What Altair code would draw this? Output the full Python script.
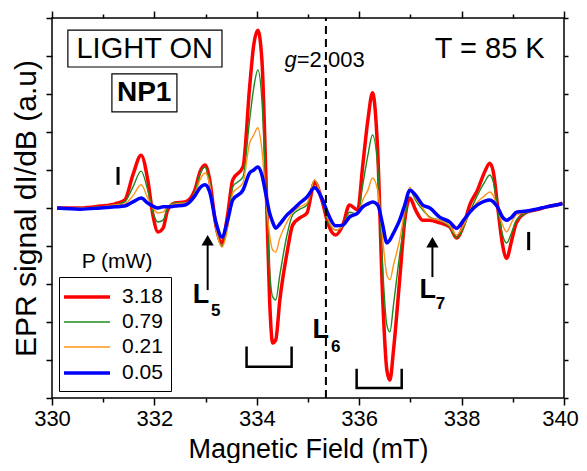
import altair as alt
import pandas as pd

FONT = "Liberation Sans"

# Magnetic field (mT) sample positions
field_mT = [330.10, 330.55, 330.94, 331.23, 331.42, 331.58, 331.74, 331.87, 331.97, 332.07,
            332.17, 332.26, 332.40, 332.60, 332.79, 332.89, 332.99, 333.08, 333.20, 333.32,
            333.43, 333.53, 333.73, 333.86, 333.94, 334.02, 334.10, 334.18, 334.25, 334.31,
            334.37, 334.45, 334.59, 334.70, 334.84, 334.98, 335.13, 335.27, 335.40, 335.54,
            335.68, 335.81, 335.97, 336.07, 336.17, 336.26, 336.36, 336.46, 336.54, 336.60,
            336.67, 336.79, 336.89, 336.99, 337.10, 337.24, 337.38, 337.57, 337.77, 337.90,
            338.04, 338.16, 338.31, 338.45, 338.55, 338.62, 338.70, 338.80, 338.88, 338.98,
            339.07, 339.27, 339.46, 339.66, 339.85, 339.97]

# EPR signal (a.u.) for each microwave power
sig_318 = [0, 0, 0.05, 0.11, 0.21, 0.87, 1.39, 0.74, -0.18, -0.63,
           -0.53, -0.05, 0.13, 0.16, 0.47, 0.95, 1.13, 0.74, -0.45, -0.92,
           -0.18, 0.74, 1.08, 3.18, 4.29, 4.68, 3.89, 0.74, -2.42, -3.55,
           -3.47, -2.42, -1.18, -0.45, -0.26, -0.13, 0.68, 0.21, -0.45, -0.71,
           -0.45, 0.08, -0.05, 1.13, 2.32, 3.03, 1.53, -2.42, -4.26, -4.53,
           -3.74, -1.89, -0.32, 0.26, -0.05, -0.32, -0.32, -0.39, -0.50, -0.79,
           -0.45, 0.08, 0.47, 0.95, 1.18, 0.95, 0.08, -0.97, -1.32, -0.84,
           -0.39, -0.11, -0.05, 0.03, 0.08, 0.13]
sig_079 = [0, 0, 0.03, 0.08, 0.16, 0.55, 0.97, 0.47, -0.11, -0.37,
           -0.32, 0, 0.13, 0.13, 0.42, 0.89, 1.08, 0.68, -0.53, -1.00,
           -0.45, 0.55, 0.82, 2.32, 3.16, 3.63, 2.84, 0.47, -1.63, -2.34,
           -2.42, -1.76, -0.71, -0.18, -0.03, 0.08, 0.74, 0.21, -0.37, -0.58,
           -0.47, -0.11, -0.16, 0.61, 1.39, 1.92, 1.13, -1.63, -3.08, -3.26,
           -2.55, -1.24, -0.32, 0.47, 0.21, -0.05, -0.24, -0.32, -0.50, -0.79,
           -0.50, -0.11, 0.34, 0.68, 0.87, 0.68, 0.03, -0.71, -0.92, -0.63,
           -0.32, -0.13, -0.05, 0.03, 0.08, 0.13]
sig_021 = [0, 0, 0.03, 0.08, 0.11, 0.32, 0.61, 0.26, 0, -0.13,
           -0.11, 0.05, 0.11, 0.13, 0.37, 0.74, 0.92, 0.63, -0.53, -1.03,
           -0.53, 0.39, 0.66, 1.71, 1.92, 2.11, 1.53, 0.21, -0.71, -1.11,
           -1.16, -0.79, -0.37, -0.11, 0.03, 0.13, 0.74, 0.26, -0.32, -0.58,
           -0.47, -0.18, -0.16, 0.21, 0.47, 0.79, 0.47, -0.84, -1.76, -1.89,
           -1.50, -0.84, -0.05, 0.55, 0.26, 0, -0.26, -0.32, -0.47, -0.71,
           -0.45, -0.11, 0.16, 0.32, 0.42, 0.32, 0.03, -0.45, -0.63, -0.37,
           -0.18, -0.11, -0.05, 0.03, 0.08, 0.13]
sig_005 = [0, -0.03, 0, 0.03, 0.05, 0.16, 0.26, 0.13, 0.05, 0,
           0.03, 0.03, 0.05, 0.08, 0.32, 0.53, 0.61, 0.42, -0.37, -0.76,
           -0.32, 0.21, 0.47, 0.92, 1.00, 1.08, 0.87, 0.34, -0.13, -0.37,
           -0.53, -0.42, -0.18, -0.05, 0.13, 0.29, 0.53, 0.26, -0.18, -0.47,
           -0.45, -0.24, -0.13, 0.03, 0.11, 0.16, 0.08, -0.45, -0.92, -0.84,
           -0.66, -0.32, 0.08, 0.47, 0.34, 0.08, 0, -0.24, -0.37, -0.53,
           -0.32, -0.11, 0.08, 0.18, 0.21, 0.16, 0.03, -0.24, -0.32, -0.24,
           -0.11, -0.08, -0.03, 0.03, 0.08, 0.11]

powers = ["3.18", "0.79", "0.21", "0.05"]
series = [sig_318, sig_079, sig_021, sig_005]
colors = ["#ff0000", "#1e8a1e", "#ff9418", "#0000ff"]
widths = [3.5, 1.4, 1.4, 3.5]

x_ticks = list(range(330, 341))
y_ticks = list(range(-5, 6))

rows = []
for p, s in zip(powers, series):
    for f, v in zip(field_mT, s):
        rows.append({"field": f, "sig": v, "P": p})
df = pd.DataFrame(rows)

XS = alt.Scale(domain=[330, 340], nice=False, zero=False)
YS = alt.Scale(domain=[-5, 5], nice=False, zero=False)

tick_len = {"condition": {"test": "datum.value % 2 === 0", "value": 7}, "value": 4}
last_shift = {"condition": {"test": "datum.value === 340", "value": -4}, "value": 0}

x_bottom = alt.Axis(values=x_ticks, labelExpr="datum.value % 2 === 0 ? datum.label : ''",
                    tickSize=tick_len, tickColor="black", tickWidth=1.5, grid=False,
                    domain=False, labelFont=FONT, labelFontSize=22, labelColor="black",
                    labelPadding=3, labelOffset=last_shift, title="Magnetic Field  (mT)",
                    titleFont=FONT, titleFontSize=27, titleFontWeight="normal",
                    titleColor="black", titleBaseline="alphabetic", titleY=59,
                    labelFlush=False, labelOverlap=False)
x_top = alt.Axis(orient="top", values=x_ticks, labels=False, tickSize=tick_len,
                 tickColor="black", tickWidth=1.5, grid=False, domain=False, title=None)
y_left = alt.Axis(values=y_ticks, labels=False, tickSize=6, tickColor="black", tickWidth=1.5,
                  grid=False, domain=False, title="EPR signal dI/dB  (a.u)", titleFont=FONT,
                  titleFontSize=30, titleFontWeight="normal", titleColor="black",
                  titlePadding=4)
y_right = alt.Axis(orient="right", values=y_ticks, labels=False, tickSize=4, tickColor="black",
                   tickWidth=1.5, grid=False, domain=False, title=None)


def X(name, axis=None):
    return alt.X(name, type="quantitative", scale=XS, axis=axis)


def Y(name, axis=None):
    return alt.Y(name, type="quantitative", scale=YS, axis=axis)


legend = alt.Legend(orient="none", legendX=7, legendY=259, title=None,
                    symbolType="M-2.3,0H2.3", symbolSize=400, symbolOffset=8,
                    labelFont=FONT, labelFontSize=21, labelColor="black",
                    strokeColor="black", fillColor="white", padding=8, rowPadding=4,
                    labelOffset=23)

lines = alt.Chart(df).mark_line(interpolate="monotone").encode(
    x=X("field", x_bottom),
    y=Y("sig", y_left),
    color=alt.Color("P:N", scale=alt.Scale(domain=powers, range=colors), legend=legend),
    strokeWidth=alt.StrokeWidth("P:N",
                                scale=alt.Scale(type="ordinal", domain=powers, range=widths),
                                legend=legend),
)

mirror = alt.Chart(df).mark_point(opacity=0).encode(x=X("field", x_top), y=Y("sig", y_right))

# g = 2.003 marker line
g_line = pd.DataFrame({"x": [335.35], "y1": [-5], "y2": [5]})
gline = alt.Chart(g_line).mark_rule(color="black", strokeWidth=2, strokeDash=[8, 5]).encode(
    x=X("x"), y=Y("y1"), y2="y2")

# boxes
boxes_df = pd.DataFrame({"x1": [330.31, 331.17], "x2": [333.32, 332.44],
                         "y1": [3.71, 2.53], "y2": [4.68, 3.53]})
boxes = alt.Chart(boxes_df).mark_rect(fill="white", stroke="black", strokeWidth=1.2).encode(
    x=X("x1"), x2="x2", y=Y("y1"), y2="y2")


def text_layer(xs, ys, labels, size, weight="normal", style="normal", align="center"):
    d = pd.DataFrame({"x": xs, "y": ys, "t": labels})
    return alt.Chart(d).mark_text(font=FONT, fontSize=size, fontWeight=weight, fontStyle=style,
                                  align=align, baseline="middle", color="black").encode(
        x=X("x"), y=Y("y"), text="t:N")


t_light = text_layer([331.81], [4.18], ["LIGHT ON"], 29)
t_np1 = text_layer([331.80], [3.03], ["NP1"], 28, weight="bold")
t_temp = text_layer([338.55], [4.18], ["T = 85 K"], 29)
t_g = text_layer([334.78], [3.89], ["g"], 22, style="italic", align="right")
t_gval = text_layer([334.78], [3.89], ["=2.003"], 22, align="left")
t_ptitle = text_layer([331.27], [-1.42], ["P (mW)"], 21)
t_L = text_layer([332.91, 335.25, 337.34], [-2.29, -3.21, -2.16], ["L", "L", "L"], 27,
                 weight="bold")
t_sub = text_layer([333.20, 335.54, 337.59], [-2.71, -3.66, -2.53], ["5", "6", "7"], 17,
                   weight="bold")

# small vertical "I" markers
bars_df = pd.DataFrame({"x": [331.29, 339.31], "y1": [0.61, -1.11], "y2": [1.08, -0.63]})
bars = alt.Chart(bars_df).mark_rule(color="black", strokeWidth=3).encode(
    x=X("x"), y=Y("y1"), y2="y2")

# arrows
arrow_df = pd.DataFrame({"x": [333.04, 337.43], "y1": [-2.16, -1.82], "y2": [-0.92, -0.97],
                         "head": [-0.85, -0.90]})
shafts = alt.Chart(arrow_df).mark_rule(color="black", strokeWidth=2).encode(
    x=X("x"), y=Y("y1"), y2="y2")
heads = alt.Chart(arrow_df).mark_point(shape="triangle-up", size=150, filled=True,
                                       color="black", opacity=1).encode(x=X("x"), y=Y("head"))

# brackets
br_df = pd.DataFrame({
    "x": [333.80, 333.80, 334.68, 334.68, 335.95, 335.95, 336.83, 336.83],
    "y": [-3.68, -4.18, -4.18, -3.68, -4.26, -4.74, -4.74, -4.26],
    "id": ["a", "a", "a", "a", "b", "b", "b", "b"],
    "o": [0, 1, 2, 3, 0, 1, 2, 3],
})
brackets = alt.Chart(br_df).mark_line(color="black", strokeWidth=2.5, strokeCap="square").encode(
    x=X("x"), y=Y("y"), detail="id:N", order="o:Q")

chart = alt.layer(
    lines, mirror, gline, boxes, t_light, t_np1, t_temp, t_g, t_gval, t_ptitle, t_L, t_sub,
    bars, shafts, heads, brackets
).resolve_axis(x="independent", y="independent").properties(
    width=512, height=380,
    autosize=alt.AutoSizeParams(type="none"),
    padding={"left": 44, "top": 10, "right": 15, "bottom": 65},
).configure_view(stroke="black", strokeWidth=1.5)

chart.save("out.html", embed_options={"renderer": "svg", "actions": False})
